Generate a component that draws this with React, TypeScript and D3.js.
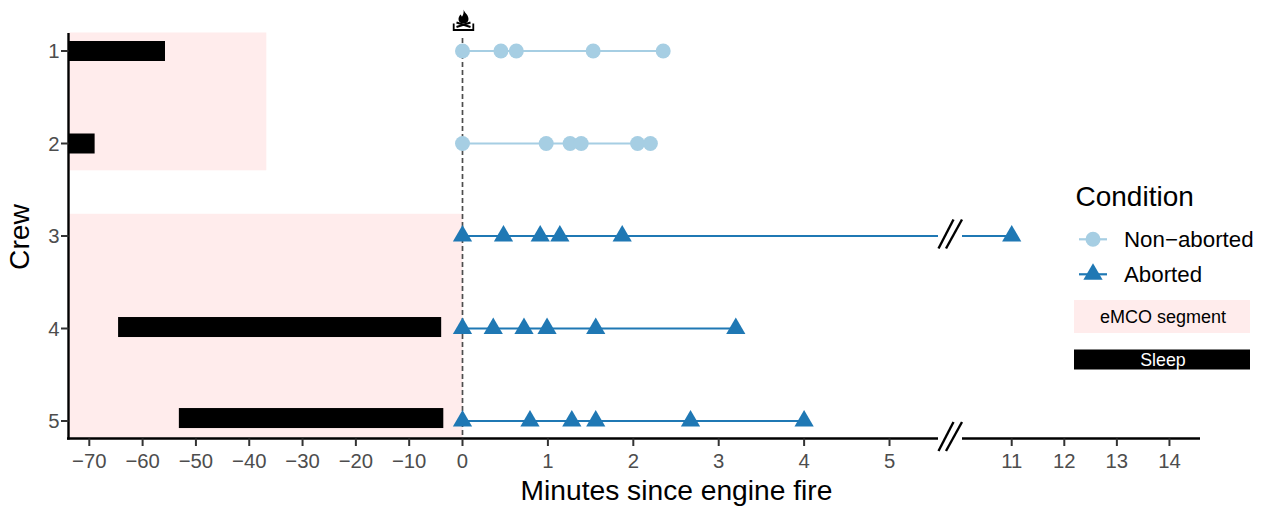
import React, { useEffect, useRef } from "react";
import * as d3 from "d3";

const crews = [1, 2, 3, 4, 5];
const xTicks = [-70, -60, -50, -40, -30, -20, -10, 0, 1, 2, 3, 4, 5, 11, 12, 13, 14];

const crew1 = [0, 0.45, 0.63, 1.53, 2.35];
const crew2 = [0, 0.98, 1.26, 1.39, 2.05, 2.2];
const crew3 = [0, 0.48, 0.91, 1.14, 1.87, 11];
const crew4 = [0, 0.36, 0.72, 0.99, 1.56, 3.2];
const crew5 = [0, 0.79, 1.28, 1.56, 2.67, 4.0];
const events = [crew1, crew2, crew3, crew4, crew5];
const aborted = [false, false, true, true, true];

// crew position, start, end
const sleep: [number, number, number][] = [
  [1, -73.9, -55.8],
  [2, -73.9, -69],
  [3.984, -64.6, -4],
  [4.968, -53.2, -3.6],
];
// x0, x1, y0, y1 in data units
const emco: [number, number, number, number][] = [
  [-73.9, -36.8, 0.8, 2.29],
  [-73.9, 0, 2.76, 5.18],
];

const LIGHT = "#A6CEE3";
const DARK = "#1F78B4";
const PINK = "#FFECEC";
const FONT = "'Liberation Sans', Arial, sans-serif";
const GREY = "#4D4D4D";

export default function App() {
  const ref = useRef<SVGSVGElement>(null);

  useEffect(() => {
    const svg = d3.select(ref.current);
    svg.selectAll("*").remove();

    // piecewise scale: long minutes before fire, wide 0-5.7, squeezed break, then 11-14
    const x = d3.scaleLinear()
      .domain([-73.9, 0, 5.7, 9.83, 14.6])
      .range([68.5, 462.5, 949.3, 950.2, 1201]);
    const y = d3.scaleLinear().domain([1, 5]).range([51, 421]);
    const axisY = 438.5;

    svg.append("g").selectAll("rect")
      .data(emco)
      .join("rect")
      .attr("x", d => x(d[0]))
      .attr("width", d => x(d[1]) - x(d[0]))
      .attr("y", d => y(d[2]))
      .attr("height", d => y(d[3]) - y(d[2]))
      .attr("fill", PINK);

    svg.append("g").selectAll("rect")
      .data(sleep)
      .join("rect")
      .attr("x", d => x(d[1]))
      .attr("width", d => x(d[2]) - x(d[1]))
      .attr("y", d => y(d[0]) - 10)
      .attr("height", 20)
      .attr("fill", "#000");

    // engine fire reference line
    svg.append("line")
      .attr("x1", x(0)).attr("x2", x(0))
      .attr("y1", 38).attr("y2", axisY)
      .attr("stroke", "#4D4D4D").attr("stroke-width", 1.7)
      .attr("stroke-dasharray", "5 3");

    // fire icon
    const icon = svg.append("g").attr("transform", `translate(${x(0) + 1},0)`);
    icon.append("path")
      .attr("d", "M0,9.5 C0.6,12.5 5,14.5 5,19 C5,21.5 3.5,23 1,23.5 L-1,23.5 C-3.5,23 -5,21.5 -5,19 C-5,17 -3.8,16 -3.2,14.5 C-2.2,15.3 -1.8,16 -1.6,16.8 C-0.2,14.8 0.5,12.5 0,9.5 Z")
      .attr("fill", "#000");
    icon.append("path")
      .attr("d", "M-7,22.5 L7,27 M7,22.5 L-7,27")
      .attr("stroke", "#000").attr("stroke-width", 2).attr("fill", "none");
    icon.append("path")
      .attr("d", "M-9.8,23.5 L-9.8,30 L9.8,30 L9.8,23.5")
      .attr("stroke", "#000").attr("stroke-width", 1.8).attr("fill", "none");

    const line = d3.line<number>().x(d => x(d)).y(0);
    const tri = d3.symbol().type(d3.symbolTriangle).size(160);

    events.forEach((vals, i) => {
      const color = aborted[i] ? DARK : LIGHT;
      const g = svg.append("g").attr("transform", `translate(0,${y(crews[i])})`);
      g.append("path")
        .attr("d", line([vals[0], vals[vals.length - 1]]))
        .attr("stroke", color).attr("stroke-width", 2.2).attr("fill", "none");
      if (aborted[i]) {
        g.selectAll("path.mark")
          .data(vals)
          .join("path")
          .attr("class", "mark")
          .attr("d", tri)
          .attr("transform", d => `translate(${x(d)},0)`)
          .attr("fill", color);
      } else {
        g.selectAll("circle")
          .data(vals)
          .join("circle")
          .attr("cx", d => x(d))
          .attr("r", 7.5)
          .attr("fill", color);
      }
    });

    // axes
    svg.append("line")
      .attr("x1", 68.5).attr("x2", 68.5).attr("y1", 33).attr("y2", axisY + 1)
      .attr("stroke", "#000").attr("stroke-width", 2.4);
    svg.append("line")
      .attr("x1", 67).attr("x2", 1200).attr("y1", axisY).attr("y2", axisY)
      .attr("stroke", "#000").attr("stroke-width", 2.4);

    const xg = svg.append("g").selectAll("g")
      .data(xTicks)
      .join("g")
      .attr("transform", d => `translate(${x(d)},${axisY})`);
    xg.append("line").attr("y2", 7.5).attr("stroke", "#333").attr("stroke-width", 2);
    xg.append("text")
      .attr("y", 29.5)
      .attr("text-anchor", "middle")
      .attr("font-family", FONT)
      .attr("font-size", 20.3)
      .attr("fill", GREY)
      .text(d => String(d).replace("-", "\u2212"));

    const yg = svg.append("g").selectAll("g")
      .data(crews)
      .join("g")
      .attr("transform", d => `translate(68.5,${y(d)})`);
    yg.append("line").attr("x2", -7.5).attr("stroke", "#333").attr("stroke-width", 2);
    yg.append("text")
      .attr("x", -9)
      .attr("dy", "0.36em")
      .attr("text-anchor", "end")
      .attr("font-family", FONT)
      .attr("font-size", 20.3)
      .attr("fill", GREY)
      .text(d => d);

    // axis titles
    svg.append("text")
      .attr("x", 676.5).attr("y", 500)
      .attr("text-anchor", "middle")
      .attr("font-family", FONT).attr("font-size", 28.2)
      .text("Minutes since engine fire");
    svg.append("text")
      .attr("transform", "translate(28.5,237) rotate(-90)")
      .attr("text-anchor", "middle")
      .attr("font-family", FONT).attr("font-size", 28.2)
      .text("Crew");

    // axis breaks
    [y(3), axisY].forEach(by => {
      svg.append("rect")
        .attr("x", 938).attr("width", 24)
        .attr("y", by - 3).attr("height", 6)
        .attr("fill", "#fff");
      [[938.5, 953.5], [946, 962]].forEach(([a, b]) => {
        svg.append("line")
          .attr("x1", a).attr("y1", by + 12.5)
          .attr("x2", b).attr("y2", by - 16.5)
          .attr("stroke", "#000").attr("stroke-width", 2.4);
      });
    });

    // legend
    svg.append("text")
      .attr("x", 1075.5).attr("y", 206)
      .attr("font-family", FONT).attr("font-size", 28)
      .text("Condition");

    const legend = [
      { label: "Non\u2212aborted", color: LIGHT, cy: 239.3, isTri: false },
      { label: "Aborted", color: DARK, cy: 274.3, isTri: true },
    ];
    legend.forEach(l => {
      svg.append("line")
        .attr("x1", 1079).attr("x2", 1107)
        .attr("y1", l.cy).attr("y2", l.cy)
        .attr("stroke", l.color).attr("stroke-width", 2.2);
      if (l.isTri) {
        svg.append("path")
          .attr("d", tri)
          .attr("transform", `translate(1093,${l.cy})`)
          .attr("fill", l.color);
      } else {
        svg.append("circle")
          .attr("cx", 1093).attr("cy", l.cy).attr("r", 7.5)
          .attr("fill", l.color);
      }
      svg.append("text")
        .attr("x", 1124).attr("y", l.cy + 7.8)
        .attr("font-family", FONT).attr("font-size", 22.3)
        .text(l.label);
    });

    svg.append("rect")
      .attr("x", 1074).attr("y", 300).attr("width", 176).attr("height", 33)
      .attr("fill", PINK);
    svg.append("text")
      .attr("x", 1163).attr("y", 322.7)
      .attr("text-anchor", "middle")
      .attr("font-family", FONT).attr("font-size", 18)
      .text("eMCO segment");
    svg.append("rect")
      .attr("x", 1074).attr("y", 349.5).attr("width", 176).attr("height", 20)
      .attr("fill", "#000");
    svg.append("text")
      .attr("x", 1163).attr("y", 365.5)
      .attr("text-anchor", "middle")
      .attr("font-family", FONT).attr("font-size", 17.8)
      .attr("fill", "#fff")
      .text("Sleep");
  }, []);

  return (
    <svg
      ref={ref}
      width={1265}
      height={509}
      style={{ position: "absolute", left: 0, top: 0, display: "block", background: "#fff" }}
    />
  );
}
